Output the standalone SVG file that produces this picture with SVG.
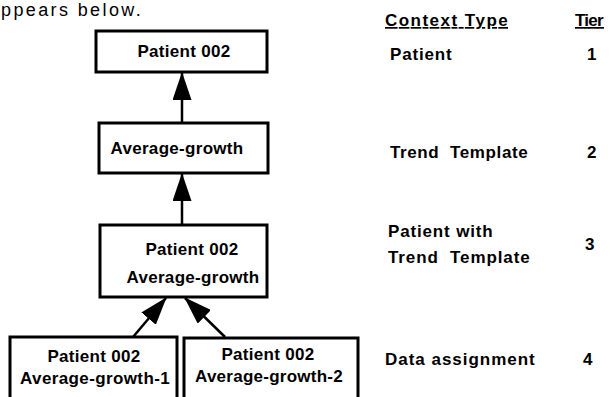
<svg xmlns="http://www.w3.org/2000/svg" width="610" height="397" viewBox="0 0 610 397">
<style>
.box{fill:#fff;stroke:#000;stroke-width:3}
.t{font-family:"Liberation Sans",Arial,sans-serif;font-weight:bold;font-size:17px;fill:#000;letter-spacing:0.3px}
.c{text-anchor:middle}
.conn line{stroke:#000;stroke-width:2.5}
</style>
<defs>
<marker id="ah" markerUnits="userSpaceOnUse" viewBox="0 0 28 19" refX="27" refY="9.5" markerWidth="28" markerHeight="19" orient="auto">
<path d="M0,0 L28,9.5 L0,19 z" fill="#000"/>
</marker>
</defs>
<text class="t" x="1" y="16" style="font-weight:normal;font-size:18px" textLength="140" lengthAdjust="spacing">ppears below.</text>
<g id="conn" class="conn">
<line x1="182" y1="123" x2="182" y2="73" marker-end="url(#ah)"/>
<line x1="182" y1="225" x2="182" y2="174" marker-end="url(#ah)"/>
<line x1="133" y1="337" x2="166" y2="298" marker-end="url(#ah)"/>
<line x1="225" y1="337" x2="185" y2="298" marker-end="url(#ah)"/>
</g>
<g id="n1">
<rect class="box" x="96" y="31" width="171" height="41"/>
<text class="t c" x="184" y="57">Patient 002</text>
</g>
<g id="n2">
<rect class="box" x="99" y="123" width="169" height="50"/>
<text class="t c" x="177" y="154">Average-growth</text>
</g>
<g id="n3">
<rect class="box" x="100" y="225" width="167" height="72"/>
<text class="t c" x="192" y="255">Patient 002</text>
<text class="t c" x="193" y="283">Average-growth</text>
</g>
<g id="n4">
<rect class="box" x="10" y="337" width="167" height="70"/>
<text class="t c" x="94" y="362">Patient 002</text>
<text class="t c" x="95" y="384" textLength="150" lengthAdjust="spacing">Average-growth-1</text>
</g>
<g id="n5">
<rect class="box" x="184" y="338" width="174" height="70"/>
<text class="t c" x="268" y="360">Patient 002</text>
<text class="t c" x="269" y="382" textLength="148" lengthAdjust="spacing">Average-growth-2</text>
</g>
<g id="legend">
<text class="t" x="385" y="26" text-decoration="underline" textLength="123" lengthAdjust="spacing">Context Type</text>
<text class="t" x="575" y="26" text-decoration="underline" textLength="29" lengthAdjust="spacing">Tier</text>
<text class="t" x="390" y="60" textLength="62" lengthAdjust="spacing">Patient</text>
<text class="t" x="587" y="60">1</text>
<text class="t" x="390" y="158" textLength="138" lengthAdjust="spacing">Trend&#160; Template</text>
<text class="t" x="587" y="158">2</text>
<text class="t" x="388" y="237" textLength="105" lengthAdjust="spacing">Patient with</text>
<text class="t" x="388" y="263" textLength="142" lengthAdjust="spacing">Trend&#160; Template</text>
<text class="t" x="585" y="250">3</text>
<text class="t" x="385" y="365" textLength="150" lengthAdjust="spacing">Data assignment</text>
<text class="t" x="583" y="365">4</text>
</g>
</svg>
